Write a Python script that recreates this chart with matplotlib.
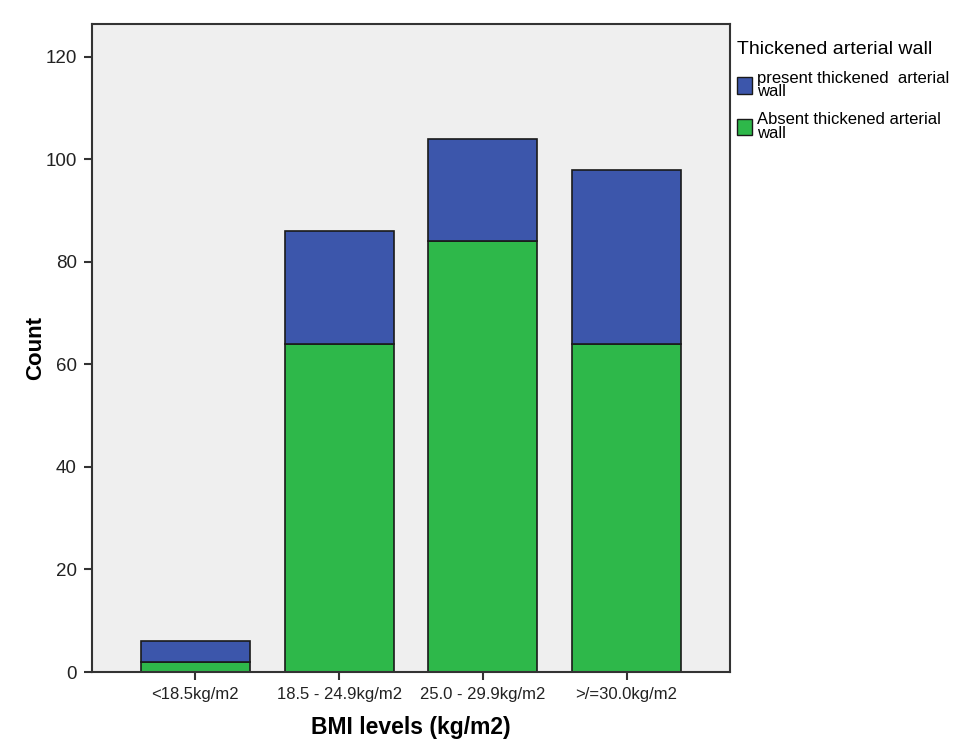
import numpy as np
import matplotlib.pyplot as plt
from matplotlib.patches import Patch

plt.rcParams['font.family'] = ['Liberation Sans', 'DejaVu Sans']

categories = ['<18.5kg/m2', '18.5 - 24.9kg/m2', '25.0 - 29.9kg/m2', '>/=30.0kg/m2']
absent = [2, 64, 84, 64]
present = [4, 22, 20, 34]
yticks = [0, 20, 40, 60, 80, 100, 120]

blue = '#3C56AB'
green = '#2EB84A'

fig = plt.figure(figsize=(9.58, 7.49), dpi=100)
ax = fig.add_axes([0.096, 0.1028, 0.666, 0.865])
ax.set_facecolor('#EFEFEF')

x = np.arange(len(categories))
ax.bar(x, absent, width=0.757, color=green, edgecolor='#1a1a1a', linewidth=1.2, zorder=2)
ax.bar(x, present, width=0.757, bottom=absent, color=blue, edgecolor='#1a1a1a', linewidth=1.2, zorder=2)

ax.set_xlim(-0.72, 3.72)
ax.set_ylim(0, 126.4)
ax.set_xticks(x)
ax.set_xticklabels(categories, fontsize=12, color='#222222')
ax.set_yticks(yticks)
ax.set_yticklabels([str(v) for v in yticks], fontsize=13.5, color='#222222')
ax.tick_params(axis='both', length=6, width=1.5, color='#333333', pad=5)

for s in ax.spines.values():
    s.set_color('#333333')
    s.set_linewidth(1.5)

ax.set_ylabel('Count', fontsize=16, fontweight='bold', labelpad=18)
ax.set_xlabel('BMI levels (kg/m2)', fontsize=16.5, fontweight='bold', labelpad=10)
ax.yaxis.set_label_coords(-0.072, 0.5)

handles = [Patch(facecolor=blue, edgecolor='#1a1a1a'), Patch(facecolor=green, edgecolor='#1a1a1a')]
labels = ['present thickened  arterial\nwall', 'Absent thickened arterial\nwall']
leg = ax.legend(handles, labels, loc='upper left', bbox_to_anchor=(1.0, 0.985),
                frameon=False, fontsize=12, title='Thickened arterial wall',
                title_fontsize=14, handlelength=0.95, handleheight=1.15,
                handletextpad=0.25, borderaxespad=0.2, labelspacing=0.8, borderpad=0.2)
leg._legend_box.align = 'left'
for t in leg.get_texts():
    t.set_linespacing(0.85)

fig.savefig('out.png', dpi=100)
